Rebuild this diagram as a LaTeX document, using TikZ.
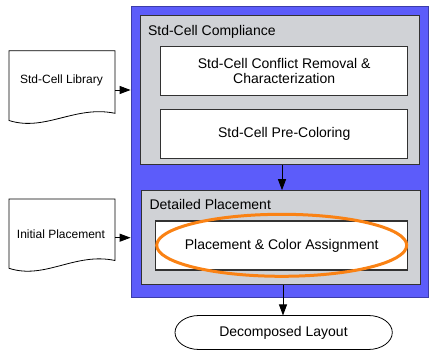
\documentclass[tikz,border=0pt]{standalone}
\usepackage{fontspec}
\setmainfont{Liberation Sans}
\usetikzlibrary{arrows.meta}
\definecolor{flowblue}{RGB}{92,92,250}
\definecolor{flowblueedge}{RGB}{60,60,170}
\definecolor{panelgray}{RGB}{208,210,214}
\definecolor{edgegray}{RGB}{50,50,50}
\definecolor{hilite}{RGB}{250,130,20}
\tikzset{
  big/.style={font=\fontsize{14}{17}\selectfont},
  small/.style={font=\fontsize{12}{14}\selectfont},
  stagebox/.style={draw=flowblueedge, fill=flowblue, line width=0.8pt, minimum width=297pt, minimum height=291pt, inner sep=0pt},
  panel/.style={draw=edgegray, fill=panelgray, line width=1pt, inner sep=0pt},
  taskbox/.style={draw=edgegray, fill=white, line width=1.2pt, inner sep=0pt, minimum height=49pt, big, align=center},
  docshape/.style={draw=black, fill=white, line width=0.8pt},
  arr/.style={draw=black, line width=0.9pt, -{Triangle[length=11pt,width=8pt]}},
  hiloop/.style={draw=hilite, line width=3pt}
}
\begin{document}
\begin{tikzpicture}[x=1pt,y=-1pt]
\useasboundingbox (0,0) rectangle (429,350);

% outer flow stage
\node[stagebox] (blue) at (279.5,151.5) {};

% Std-Cell Compliance panel
\node[panel, minimum width=279.5pt, minimum height=149.3pt] (comp) at (279.75,90.35) {};
\node[big, anchor=west] (comptitle) at (144.5,32) {Std-Cell Compliance};
\node[taskbox, minimum width=247pt] (conf) at (284.2,71.2) {Std-Cell Conflict Removal \&\\[-2pt]Characterization};
\node[taskbox, minimum width=247pt] (precol) at (284.2,133.8) {Std-Cell Pre-Coloring};

% Detailed Placement panel
\node[panel, minimum width=278.5pt, minimum height=94.3pt] (det) at (280.75,237.85) {};
\node[big, anchor=west] (dettitle) at (146,204.3) {Detailed Placement};
\node[taskbox, minimum width=252pt] (place) at (281.7,245.5) {Placement \& Color Assignment};

% highlight ring
\draw[hiloop] (281.7,245.3) ellipse [x radius=125pt, y radius=31pt];

% input documents
\draw[docshape] (9,50.7) -- (115,50.7) -- (115,113.3)
  .. controls (75,105) and (45,132) .. (9,120.5) -- cycle;
\node[small] (lib) at (61.5,80) {Std-Cell Library};
\coordinate (libout) at (115,90);

\draw[docshape] (9,199) -- (115,199) -- (115,260.5)
  .. controls (75,252) and (45,280) .. (9,268.3) -- cycle;
\node[small] (init) at (61,234.3) {Initial Placement};
\coordinate (initout) at (115,237.7);

% output terminator
\draw[docshape] (199,315.5) -- (368.3,315.5)
  arc[start angle=90, end angle=-90, x radius=24pt, y radius=17pt]
  -- (199,349.5)
  arc[start angle=270, end angle=90, x radius=24pt, y radius=17pt] -- cycle;
\node[big] (out) at (283.5,332.5) {Decomposed Layout};
\coordinate (outtop) at (283,315.5);

% connectors
\draw[arr] (libout) -- (libout -| blue.west);
\draw[arr] (initout) -- (initout -| blue.west);
\coordinate (midx) at (282,0);
\draw[arr] (midx |- comp.south) -- (midx |- det.north);
\draw[arr] (outtop |- det.south) -- (outtop);
\end{tikzpicture}
\end{document}
